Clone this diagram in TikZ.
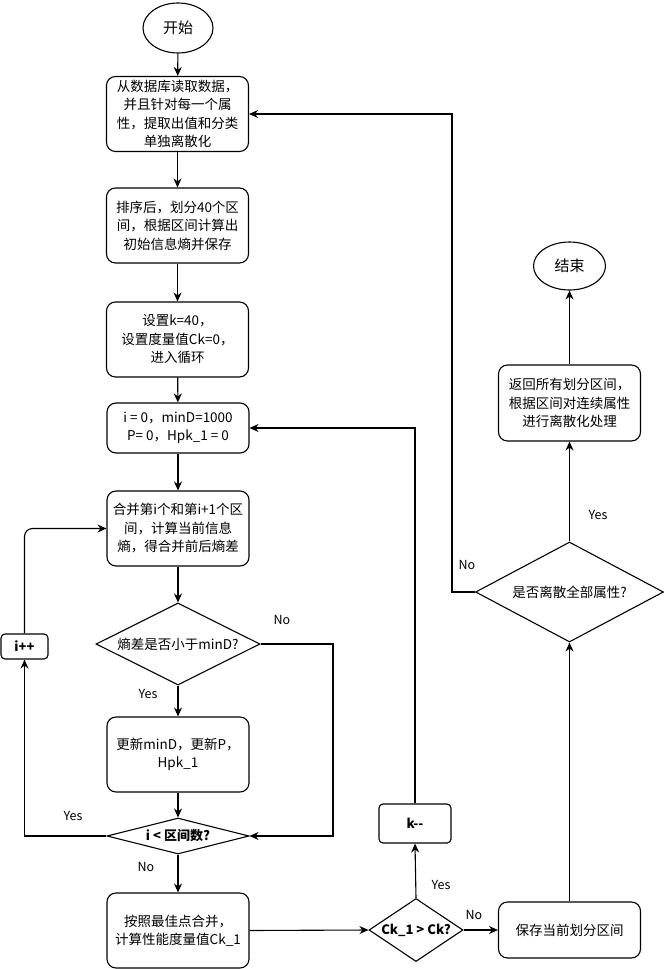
\documentclass[tikz,border=0pt]{standalone}
\usepackage{fontspec}
\setmainfont{Noto Sans CJK SC}
\usetikzlibrary{shapes.geometric,arrows.meta}
\begin{document}
\begin{tikzpicture}[x=1pt,y=-1pt,
  line width=1.1pt,
  font=\fontsize{13.5}{18.5}\selectfont,
  proc/.style={draw, rounded corners=9pt, minimum width=142pt, minimum height=75pt, align=center, inner sep=1pt},
  term/.style={draw, ellipse, minimum width=70pt, minimum height=50pt, inner sep=0pt},
  cond/.style={draw, diamond, inner sep=0pt, align=center},
  small/.style={draw, rounded corners=4pt, align=center, font=\bfseries\fontsize{13}{16}\selectfont},
  arr/.style={-{Stealth[length=9pt,width=8pt]}},
  lab/.style={font=\fontsize{12.5}{14}\selectfont}
]
\useasboundingbox (0,0) rectangle (665,969);

\node[term] (start) at (178,28) {\fontsize{15}{18}\selectfont 开始};
\node[proc] (b1) at (177.5,114) {从数据库读取数据，\\并且针对每一个属\\性，提取出值和分类\\单独离散化};
\node[proc] (b2) at (177.5,225.5) {排序后，划分40个区\\间，根据区间计算出\\初始信息熵并保存};
\node[proc] (b3) at (177.5,339.5) {设置k=40，\\设置度量值Ck=0，\\进入循环};
\node[proc, minimum height=50pt] (b4) at (178,428) {i = 0，minD=1000\\P= 0，Hpk\_1 = 0};
\node[proc] (b5) at (178,528.5) {合并第i个和第i+1个区\\间，计算当前信息\\熵，得合并前后熵差};
\node[cond, minimum width=164pt, minimum height=82pt, shape aspect=2] (d1) at (178,644) {熵差是否小于minD?};
\node[small, minimum width=47pt, minimum height=25pt] (inc) at (24.5,646.5) {i++};
\node[proc] (b6) at (178,754.5) {更新minD，更新P，\\Hpk\_1};
\node[cond, minimum width=142pt, minimum height=36pt, shape aspect=3.9, font=\bfseries\fontsize{13}{16}\selectfont] (d2) at (178,836) {i < 区间数?};
\node[proc] (b7) at (178,930.5) {按照最佳点合并，\\计算性能度量值Ck\_1};
\node[cond, minimum width=94pt, minimum height=63pt, shape aspect=1.5, font=\bfseries\fontsize{13}{16}\selectfont] (d3) at (416,930) {Ck\_1 > Ck?};
\node[small, minimum width=72pt, minimum height=39pt] (dec) at (415,823.5) {k{-}{-}};
\node[proc, minimum height=56pt] (b8) at (569.5,930) {保存当前划分区间};
\node[cond, minimum width=188pt, minimum height=100pt, shape aspect=1.9] (d4) at (569.5,592) {是否离散全部属性?};
\node[proc, minimum height=76pt] (b9) at (569.5,403) {返回所有划分区间，\\根据区间对连续属性\\进行离散化处理};
\node[term, minimum width=72pt, minimum height=48pt] (end) at (569.5,266) {\fontsize{15}{18}\selectfont 结束};

\coordinate (nr) at (333,644);
\coordinate (nr2) at (333,836);
\coordinate (kc) at (415,428);
\coordinate (lc) at (452,592);
\coordinate (lc2) at (452,114);

\draw[arr] (start) -- (b1);
\draw[arr] (b1) -- (b2);
\draw[arr] (b2) -- (b3);
\draw[arr] (b3) -- (b4);
\draw[arr] (b4) -- (b5);
\draw[arr] (b5) -- (d1);
\draw[arr] (d1) -- (b6);
\draw[arr] (b6) -- (d2);
\draw[arr] (d2) -- (b7);
\draw[arr] (d2.west) -| (inc.south);
\draw[arr, rounded corners=8pt] (inc.north) |- (b5.west);
\draw[arr] (d1.east) -- (nr) -- (nr2) -- (d2.east);
\draw[arr] (b7.east) -- (d3.west);
\draw[arr] (d3.north) -- (dec.south);
\draw[arr] (dec.north) -- (kc) -- (b4.east);
\draw[arr] (d3.east) -- (b8.west);
\draw[arr] (b8.north) -- (d4.south);
\draw[arr] (d4.north) -- (b9.south);
\draw[arr] (b9.north) -- (end.south);
\draw[arr] (d4.west) -- (lc) -- (lc2) -- (b1.east);

\node[lab] (l1) at (282,620) {No};
\node[lab] (l2) at (148,694) {Yes};
\node[lab] (l3) at (73,816) {Yes};
\node[lab] (l4) at (146,867) {No};
\node[lab] (l5) at (441,885) {Yes};
\node[lab] (l6) at (474,915) {No};
\node[lab] (l7) at (467,565) {No};
\node[lab] (l8) at (598,515) {Yes};
\end{tikzpicture}
\end{document}
